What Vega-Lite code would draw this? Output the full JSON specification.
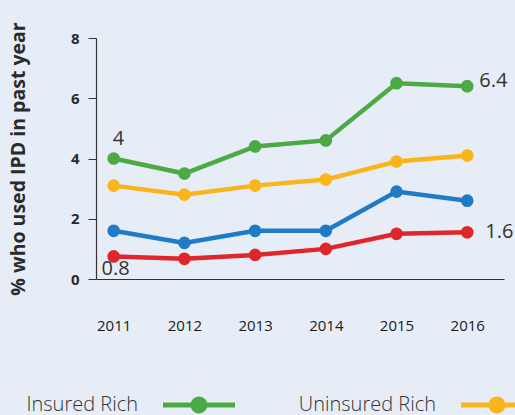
{
  "$schema": "https://vega.github.io/schema/vega-lite/v6.json",
  "width": 408,
  "height": 241,
  "autosize": "none",
  "padding": {"left": 96, "top": 38, "right": 11, "bottom": 136},
  "background": "#e6edf7",
  "config": {
    "view": {"stroke": null},
    "font": "Open Sans"
  },
  "data": {
    "values": [
      {"year": 2011, "series": "Insured Rich", "value": 4.0, "label": "4"},
      {"year": 2012, "series": "Insured Rich", "value": 3.5},
      {"year": 2013, "series": "Insured Rich", "value": 4.4},
      {"year": 2014, "series": "Insured Rich", "value": 4.6},
      {"year": 2015, "series": "Insured Rich", "value": 6.5},
      {"year": 2016, "series": "Insured Rich", "value": 6.4, "label": "6.4"},
      {"year": 2011, "series": "Uninsured Rich", "value": 3.1},
      {"year": 2012, "series": "Uninsured Rich", "value": 2.8},
      {"year": 2013, "series": "Uninsured Rich", "value": 3.1},
      {"year": 2014, "series": "Uninsured Rich", "value": 3.3},
      {"year": 2015, "series": "Uninsured Rich", "value": 3.9},
      {"year": 2016, "series": "Uninsured Rich", "value": 4.1},
      {"year": 2011, "series": "Insured Poor", "value": 1.6},
      {"year": 2012, "series": "Insured Poor", "value": 1.2},
      {"year": 2013, "series": "Insured Poor", "value": 1.6},
      {"year": 2014, "series": "Insured Poor", "value": 1.6},
      {"year": 2015, "series": "Insured Poor", "value": 2.9},
      {"year": 2016, "series": "Insured Poor", "value": 2.6},
      {"year": 2011, "series": "Uninsured Poor", "value": 0.75, "label": "0.8"},
      {"year": 2012, "series": "Uninsured Poor", "value": 0.67},
      {"year": 2013, "series": "Uninsured Poor", "value": 0.8},
      {"year": 2014, "series": "Uninsured Poor", "value": 1.0},
      {"year": 2015, "series": "Uninsured Poor", "value": 1.5},
      {"year": 2016, "series": "Uninsured Poor", "value": 1.55, "label": "1.6"}
    ]
  },
  "encoding": {
    "x": {
      "field": "year",
      "type": "quantitative",
      "scale": {"domain": [2010.75, 2016.52], "nice": false, "zero": false},
      "axis": {
        "values": [2011, 2012, 2013, 2014, 2015, 2016],
        "format": "d",
        "title": null,
        "grid": false,
        "ticks": false,
        "domainColor": "#333333",
        "domainWidth": 1.2,
        "labelPadding": 39,
        "labelFontSize": 15,
        "labelFontWeight": 500,
        "labelColor": "#1a1a1a",
        "labelFlush": false
      }
    },
    "y": {
      "field": "value",
      "type": "quantitative",
      "scale": {"domain": [0, 8], "nice": false},
      "axis": {
        "values": [0, 2, 4, 6, 8],
        "title": "% who used IPD in past year",
        "titleFontSize": 19.5,
        "titleFontWeight": "bold",
        "titleColor": "#2a2a2a",
        "titlePadding": 42,
        "grid": false,
        "tickSize": 8,
        "tickColor": "#333333",
        "domainColor": "#333333",
        "domainWidth": 1.2,
        "labelPadding": 9,
        "labelFontSize": 15,
        "labelFontWeight": "bold",
        "labelColor": "#2a2a2a"
      }
    },
    "color": {
      "field": "series",
      "type": "nominal",
      "scale": {
        "domain": ["Insured Rich", "Uninsured Rich", "Insured Poor", "Uninsured Poor"],
        "range": ["#4caa45", "#f9b51b", "#1f7bc5", "#e0262b"]
      },
      "legend": {
        "orient": "none",
        "direction": "horizontal",
        "legendX": 67,
        "legendY": 331,
        "title": null,
        "columns": 2,
        "columnPadding": 58,
        "symbolType": "M-1,-0.07H1V0.07H-1Z M0.236,0A0.236,0.236,0,1,1,-0.236,0A0.236,0.236,0,1,1,0.236,0Z",
        "symbolSize": 5184,
        "symbolStrokeWidth": 0,
        "symbolOpacity": 1,
        "labelAlign": "right",
        "labelOffset": -97,
        "labelFontSize": 20,
        "labelFontWeight": 300,
        "labelColor": "#333333",
        "labelLimit": 0,
        "encode": {
          "symbols": {
            "update": {
              "fill": {"scale": "color", "field": "value"},
              "stroke": {"value": "transparent"},
              "opacity": {"value": 1}
            }
          }
        }
      }
    }
  },
  "layer": [
    {"mark": {"type": "line", "strokeWidth": 4.5}},
    {"mark": {"type": "point", "filled": true, "size": 160, "opacity": 1}},
    {
      "transform": [{"filter": "datum.label == '4'"}],
      "mark": {"type": "text", "align": "left", "baseline": "middle", "dx": -1, "dy": -20, "fontSize": 20},
      "encoding": {"text": {"field": "label"}, "color": {"value": "#333333"}}
    },
    {
      "transform": [{"filter": "datum.label == '6.4'"}],
      "mark": {"type": "text", "align": "left", "baseline": "middle", "dx": 12, "dy": -5, "fontSize": 20},
      "encoding": {"text": {"field": "label"}, "color": {"value": "#333333"}}
    },
    {
      "transform": [{"filter": "datum.label == '1.6'"}],
      "mark": {"type": "text", "align": "left", "baseline": "middle", "dx": 18, "dy": 0, "fontSize": 20},
      "encoding": {"text": {"field": "label"}, "color": {"value": "#333333"}}
    },
    {
      "transform": [{"filter": "datum.label == '0.8'"}],
      "mark": {"type": "text", "align": "center", "baseline": "middle", "dx": 2, "dy": 13, "fontSize": 20},
      "encoding": {"text": {"field": "label"}, "color": {"value": "#333333"}}
    }
  ]
}
